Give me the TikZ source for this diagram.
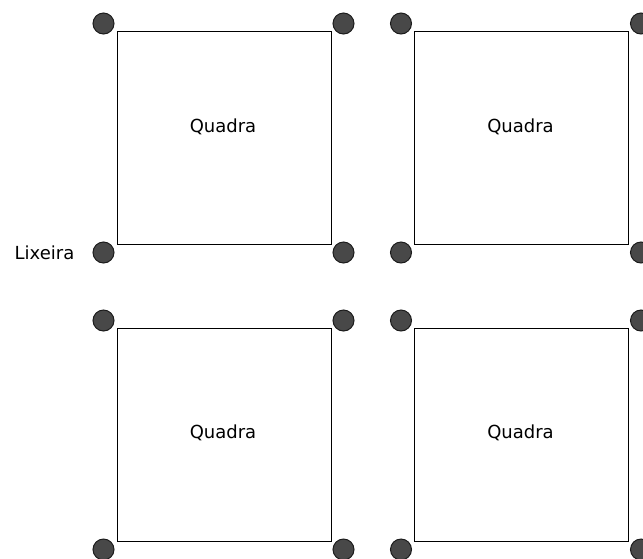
\documentclass[tikz,border=0pt]{standalone}
\usepackage{fontspec}
\setmainfont{DejaVu Sans}
\usepackage{tikz}
\usetikzlibrary{positioning,calc}
\definecolor{dotG}{RGB}{72,72,72}
\definecolor{dotK}{RGB}{28,28,28}

\begin{document}
\begin{tikzpicture}[
  x=1pt, y=-1pt,
  quadra/.style={draw, line width=1pt, minimum width=214pt, minimum height=213pt, inner sep=0pt},
  lix/.style={circle, fill=dotG, draw=dotK, line width=1pt, minimum size=21pt, inner sep=0pt},
  rot/.style={font=\fontsize{18}{21}\selectfont, inner sep=3pt}
]
\useasboundingbox (0,0) rectangle (643,558);
\node[quadra] (q1) at (224,137.5) {};
\node[quadra] (q2) at (521.5,137.5) {};
\node[quadra] (q3) at (224,434.5) {};
\node[quadra] (q4) at (521.5,434.5) {};
\node[rot] (t1) at (223,127) {Quadra};
\node[rot] (t2) at (520.5,127) {Quadra};
\node[rot] (t3) at (223,433) {Quadra};
\node[rot] (t4) at (520.5,433) {Quadra};
% lixeiras nos cantos
\foreach \q in {q1,q2,q3,q4} {
  \node[lix] (\q-nw) at ($(\q.north west)+(-13,-7)$) {};
  \node[lix] (\q-ne) at ($(\q.north east)+(12,-7)$) {};
  \node[lix] (\q-sw) at ($(\q.south west)+(-13,8)$) {};
  \node[lix] (\q-se) at ($(\q.south east)+(12,8)$) {};
}
\node[rot, left=15pt of q1-sw] (lbl) {Lixeira};
\end{tikzpicture}
\end{document}
